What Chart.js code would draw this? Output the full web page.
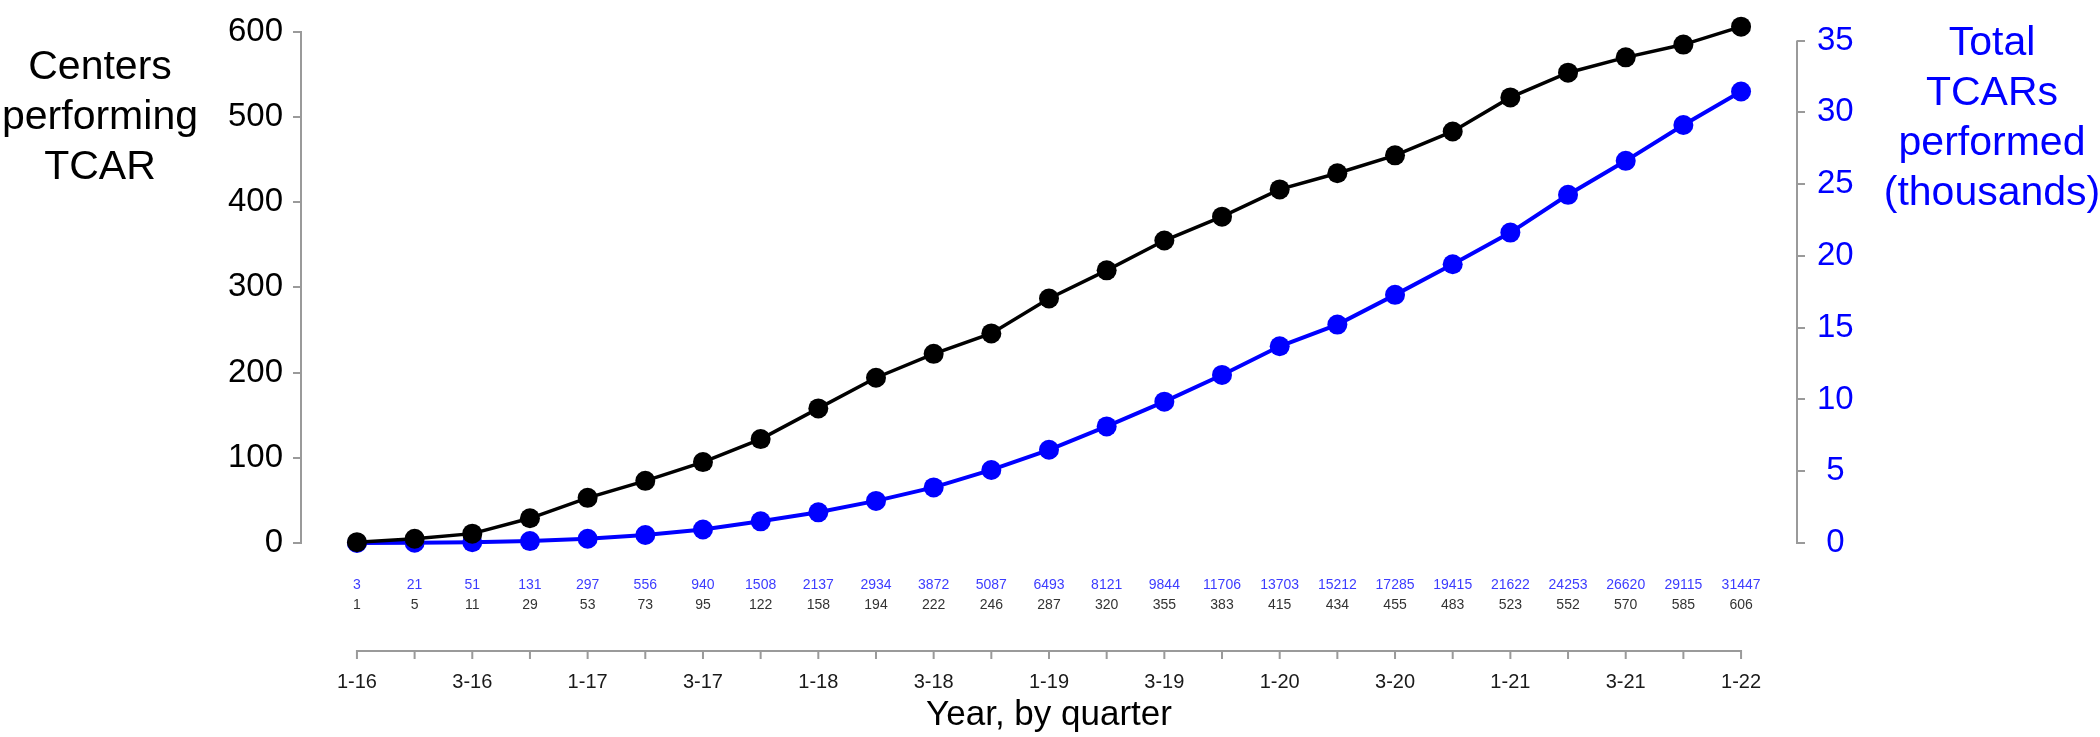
<!DOCTYPE html>
<html lang="en">
<head>
<meta charset="utf-8" />
<script src="https://cdn.jsdelivr.net/npm/chart.js@4.4.1/dist/chart.umd.min.js"></script>
<title>TCAR centers and procedures by quarter</title>
<style>
    html, body { margin: 0; padding: 0; background: #fff; }
</style>
</head>
<body>
<canvas id="tcar" width="2100" height="737"></canvas>
<script>
// quarters 1-16 .. 1-22
var quarters = ["1-16", "2-16", "3-16", "4-16", "1-17", "2-17", "3-17", "4-17",
                "1-18", "2-18", "3-18", "4-18", "1-19", "2-19", "3-19", "4-19",
                "1-20", "2-20", "3-20", "4-20", "1-21", "2-21", "3-21", "4-21", "1-22"];
// centers performing TCAR (left axis)
var centers = [1, 5, 11, 29, 53, 73, 95, 122, 158, 194, 222, 246, 287, 320, 355,
               383, 415, 434, 455, 483, 523, 552, 570, 585, 606];
// cumulative TCARs performed (right axis, shown in thousands)
var tcars = [3, 21, 51, 131, 297, 556, 940, 1508, 2137, 2934, 3872, 5087, 6493, 8121, 9844,
             11706, 13703, 15212, 17285, 19415, 21622, 24253, 26620, 29115, 31447];
var leftTicks = [0, 100, 200, 300, 400, 500, 600];
var rightTicks = [0, 5, 10, 15, 20, 25, 30, 35];
var leftTitle = ["Centers", "performing", "TCAR"];
var rightTitle = ["Total", "TCARs", "performed", "(thousands)"];

var FONT = 'Arial, "Liberation Sans", sans-serif';
var AXIS_GREY = "#9a9a9a";
Chart.defaults.font.family = FONT;

var extras = {
    id: "extras",
    afterDraw: function (chart) {
        var ctx = chart.ctx, a = chart.chartArea;
        var x = chart.scales.x, yr = chart.scales.y2;
        var last = quarters.length - 1;
        ctx.save();

        // right axis line only spans 0..35
        ctx.strokeStyle = AXIS_GREY;
        ctx.lineWidth = 2;
        ctx.beginPath();
        ctx.moveTo(a.right, yr.getPixelForValue(0) + 1);
        ctx.lineTo(a.right, yr.getPixelForValue(rightTicks[rightTicks.length - 1]));
        ctx.stroke();

        // quarter axis below the value rows
        var axisY = a.bottom + 108;
        ctx.beginPath();
        ctx.moveTo(x.getPixelForValue(0) - 1, axisY);
        ctx.lineTo(x.getPixelForValue(last) + 1, axisY);
        quarters.forEach(function (q, i) {
            var px = x.getPixelForValue(i);
            ctx.moveTo(px, axisY);
            ctx.lineTo(px, axisY + 8);
        });
        ctx.stroke();

        // value rows
        ctx.font = "14px " + FONT;
        ctx.textAlign = "center";
        ctx.textBaseline = "middle";
        quarters.forEach(function (q, i) {
            var px = x.getPixelForValue(i);
            ctx.fillStyle = "#3c3cff";
            ctx.fillText(String(tcars[i]), px, a.bottom + 42);
            ctx.fillStyle = "#333";
            ctx.fillText(String(centers[i]), px, a.bottom + 62);
        });

        // axis titles (horizontal, multi-line)
        ctx.font = "41px " + FONT;
        ctx.textBaseline = "alphabetic";
        ctx.fillStyle = "#000";
        leftTitle.forEach(function (t, i) { ctx.fillText(t, 100, 79 + i * 50); });
        ctx.fillStyle = "#0000ff";
        rightTitle.forEach(function (t, i) { ctx.fillText(t, 1992, 55 + i * 50); });

        ctx.restore();
    }
};

new Chart(document.getElementById("tcar").getContext("2d"), {
    type: "line",
    data: {
        datasets: [
            {
                label: "Centers performing TCAR",
                data: centers.map(function (v, i) { return { x: i, y: v }; }),
                yAxisID: "y",
                borderColor: "#000",
                backgroundColor: "#000",
                borderWidth: 3.5,
                pointRadius: 10,
                pointBorderWidth: 0,
                clip: false
            },
            {
                label: "Total TCARs performed (thousands)",
                data: tcars.map(function (v, i) { return { x: i, y: v / 1000 }; }),
                yAxisID: "y2",
                borderColor: "#0000ff",
                backgroundColor: "#0000ff",
                borderWidth: 4,
                pointRadius: 10,
                pointBorderWidth: 0,
                clip: false
            }
        ]
    },
    options: {
        responsive: false,
        animation: false,
        layout: { padding: { top: 16, left: 0, right: 0, bottom: 0 } },
        plugins: { legend: { display: false }, tooltip: { enabled: false } },
        scales: {
            x: {
                type: "linear",
                position: "bottom",
                min: -0.97,
                max: quarters.length - 1 + 0.97,
                afterBuildTicks: function (s) {
                    s.ticks = quarters.map(function (q, i) { return { value: i }; });
                },
                afterFit: function (s) { s.height = 194; },
                grid: { display: false },
                border: { display: false },
                ticks: {
                    autoSkip: false,
                    maxRotation: 0,
                    padding: 119,
                    color: "#1a1a1a",
                    font: { size: 20 },
                    callback: function (v) { return v % 2 === 0 ? quarters[v] : ""; }
                },
                title: {
                    display: true,
                    text: "Year, by quarter",
                    color: "#000",
                    font: { size: 35 },
                    padding: { top: 0, bottom: 1 }
                }
            },
            y: {
                position: "left",
                min: 0,
                max: 600,
                afterBuildTicks: function (s) {
                    s.ticks = leftTicks.map(function (v) { return { value: v }; });
                },
                afterFit: function (s) { s.width = 301; },
                grid: { drawOnChartArea: false, color: AXIS_GREY, lineWidth: 2, tickLength: 8 },
                border: { display: true, color: AXIS_GREY, width: 2 },
                ticks: { color: "#000", padding: 10, font: { size: 33 } }
            },
            y2: {
                position: "right",
                min: 0,
                max: 35 * 527 / 518,
                afterBuildTicks: function (s) {
                    s.ticks = rightTicks.map(function (v) { return { value: v }; });
                },
                afterFit: function (s) { s.width = 303; },
                grid: { drawOnChartArea: false, color: AXIS_GREY, lineWidth: 2, tickLength: 8 },
                border: { display: false },
                ticks: { color: "#0000ff", padding: 12, crossAlign: "center", font: { size: 33 } }
            }
        }
    },
    plugins: [extras]
});
</script>
</body>
</html>
